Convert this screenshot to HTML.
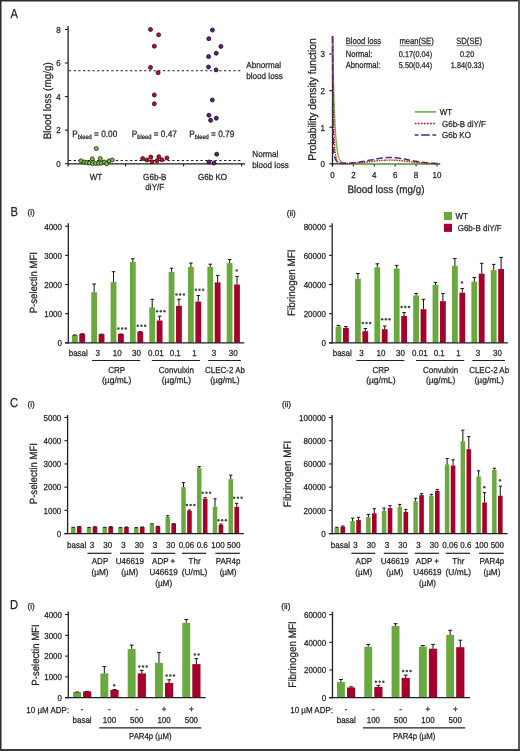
<!DOCTYPE html>
<html><head><meta charset="utf-8"><title>Figure</title>
<style>
html,body{margin:0;padding:0;background:#fff;}
body{width:520px;height:751px;overflow:hidden;position:relative;}
svg{display:block;position:absolute;left:0;top:0;will-change:transform;}
text{font-family:"Liberation Sans",sans-serif;text-rendering:geometricPrecision;stroke:#231f20;stroke-width:0.25px;}
</style></head><body>
<svg width="520" height="751" viewBox="0 0 520 751">
<rect x="0" y="0" width="520" height="751" fill="#fff"/>
<text transform="translate(10.5 17.6) scale(0.86 1)" font-size="13.02" fill="#231f20">A</text>
<line x1="68.1" y1="26" x2="68.1" y2="166.5" stroke="#231f20" stroke-width="1.3"/>
<line x1="64.9" y1="163.7" x2="68.1" y2="163.7" stroke="#231f20" stroke-width="1.1"/>
<text transform="translate(60.8 167) scale(0.92 1)" font-size="8.7" text-anchor="end" fill="#231f20">0</text>
<line x1="64.9" y1="130.14" x2="68.1" y2="130.14" stroke="#231f20" stroke-width="1.1"/>
<text transform="translate(60.8 133.44) scale(0.92 1)" font-size="8.7" text-anchor="end" fill="#231f20">2</text>
<line x1="64.9" y1="96.58" x2="68.1" y2="96.58" stroke="#231f20" stroke-width="1.1"/>
<text transform="translate(60.8 99.88) scale(0.92 1)" font-size="8.7" text-anchor="end" fill="#231f20">4</text>
<line x1="64.9" y1="63.02" x2="68.1" y2="63.02" stroke="#231f20" stroke-width="1.1"/>
<text transform="translate(60.8 66.32) scale(0.92 1)" font-size="8.7" text-anchor="end" fill="#231f20">6</text>
<line x1="64.9" y1="29.46" x2="68.1" y2="29.46" stroke="#231f20" stroke-width="1.1"/>
<text transform="translate(60.8 32.76) scale(0.92 1)" font-size="8.7" text-anchor="end" fill="#231f20">8</text>
<line x1="68.1" y1="163.8" x2="245" y2="163.8" stroke="#231f20" stroke-width="1.3"/>
<line x1="125.6" y1="163.8" x2="125.6" y2="166.6" stroke="#231f20" stroke-width="1.1"/>
<line x1="183.6" y1="163.8" x2="183.6" y2="166.6" stroke="#231f20" stroke-width="1.1"/>
<line x1="241.6" y1="163.8" x2="241.6" y2="166.6" stroke="#231f20" stroke-width="1.1"/>
<line x1="68.9" y1="70.8" x2="241" y2="70.8" stroke="#231f20" stroke-width="1.05" stroke-dasharray="2.3 2.4"/>
<line x1="68.9" y1="160.4" x2="241" y2="160.4" stroke="#231f20" stroke-width="1.05" stroke-dasharray="2.3 2.4"/>
<text transform="translate(50.9 100.8) rotate(-90) scale(0.92 1)" text-anchor="middle" font-size="10.76" fill="#231f20">Blood loss (mg/g)</text>
<text transform="translate(246.3 68.2) scale(0.92 1)" font-size="8.8" fill="#231f20">Abnormal</text>
<text transform="translate(246.3 78.6) scale(0.92 1)" font-size="8.8" fill="#231f20">blood loss</text>
<text transform="translate(252.3 157.4) scale(0.92 1)" font-size="8.8" fill="#231f20">Normal</text>
<text transform="translate(252.3 167.8) scale(0.92 1)" font-size="8.8" fill="#231f20">blood loss</text>
<text transform="translate(72.2 136.6) scale(0.9 1)" font-size="9.2" fill="#231f20">P<tspan font-size="6.4" dy="2">bleed</tspan><tspan dy="-2"> = 0.00</tspan></text>
<text transform="translate(131.8 136.6) scale(0.9 1)" font-size="9.2" fill="#231f20">P<tspan font-size="6.4" dy="2">bleed</tspan><tspan dy="-2"> = 0.47</tspan></text>
<text transform="translate(189.2 136.6) scale(0.9 1)" font-size="9.2" fill="#231f20">P<tspan font-size="6.4" dy="2">bleed</tspan><tspan dy="-2"> = 0.79</tspan></text>
<text transform="translate(96 179.6) scale(0.92 1)" font-size="8.8" text-anchor="middle" fill="#231f20">WT</text>
<text transform="translate(154.8 179.9) scale(0.92 1)" font-size="8.8" text-anchor="middle" fill="#231f20">G6b-B</text>
<text transform="translate(154.8 189.6) scale(0.92 1)" font-size="8.8" text-anchor="middle" fill="#231f20">diY/F</text>
<text transform="translate(212.5 179.9) scale(0.92 1)" font-size="8.8" text-anchor="middle" fill="#231f20">G6b KO</text>
<circle cx="96.3" cy="148.5" r="2" fill="#7cc043" stroke="#1f2a12" stroke-width="0.8"/>
<circle cx="80.8" cy="160.8" r="2" fill="#7cc043" stroke="#1f2a12" stroke-width="0.8"/>
<circle cx="84.2" cy="162" r="2" fill="#7cc043" stroke="#1f2a12" stroke-width="0.8"/>
<circle cx="86.9" cy="162.6" r="2" fill="#7cc043" stroke="#1f2a12" stroke-width="0.8"/>
<circle cx="89.5" cy="163" r="2" fill="#7cc043" stroke="#1f2a12" stroke-width="0.8"/>
<circle cx="92.3" cy="158.8" r="2" fill="#7cc043" stroke="#1f2a12" stroke-width="0.8"/>
<circle cx="92.6" cy="163.5" r="2" fill="#7cc043" stroke="#1f2a12" stroke-width="0.8"/>
<circle cx="95.7" cy="163.4" r="2" fill="#7cc043" stroke="#1f2a12" stroke-width="0.8"/>
<circle cx="98.5" cy="163.4" r="2" fill="#7cc043" stroke="#1f2a12" stroke-width="0.8"/>
<circle cx="100.3" cy="158.5" r="2" fill="#7cc043" stroke="#1f2a12" stroke-width="0.8"/>
<circle cx="101.2" cy="163.2" r="2" fill="#7cc043" stroke="#1f2a12" stroke-width="0.8"/>
<circle cx="104.2" cy="162" r="2" fill="#7cc043" stroke="#1f2a12" stroke-width="0.8"/>
<circle cx="106.6" cy="163.8" r="2" fill="#7cc043" stroke="#1f2a12" stroke-width="0.8"/>
<circle cx="109.2" cy="160.8" r="2" fill="#7cc043" stroke="#1f2a12" stroke-width="0.8"/>
<circle cx="112.3" cy="160" r="2" fill="#7cc043" stroke="#1f2a12" stroke-width="0.8"/>
<circle cx="150.5" cy="29.5" r="2" fill="#c00b2c" stroke="#2a0a0e" stroke-width="0.8"/>
<circle cx="158.6" cy="34.8" r="2" fill="#c00b2c" stroke="#2a0a0e" stroke-width="0.8"/>
<circle cx="154.3" cy="46.2" r="2" fill="#c00b2c" stroke="#2a0a0e" stroke-width="0.8"/>
<circle cx="150.5" cy="67.4" r="2" fill="#c00b2c" stroke="#2a0a0e" stroke-width="0.8"/>
<circle cx="158.1" cy="72.7" r="2" fill="#c00b2c" stroke="#2a0a0e" stroke-width="0.8"/>
<circle cx="154.3" cy="94.9" r="2" fill="#c00b2c" stroke="#2a0a0e" stroke-width="0.8"/>
<circle cx="154.3" cy="103.8" r="2" fill="#c00b2c" stroke="#2a0a0e" stroke-width="0.8"/>
<circle cx="142.7" cy="158.6" r="2" fill="#c00b2c" stroke="#2a0a0e" stroke-width="0.8"/>
<circle cx="147.1" cy="160" r="2" fill="#c00b2c" stroke="#2a0a0e" stroke-width="0.8"/>
<circle cx="150.8" cy="157.1" r="2" fill="#c00b2c" stroke="#2a0a0e" stroke-width="0.8"/>
<circle cx="152" cy="161.8" r="2" fill="#c00b2c" stroke="#2a0a0e" stroke-width="0.8"/>
<circle cx="157" cy="160.8" r="2" fill="#c00b2c" stroke="#2a0a0e" stroke-width="0.8"/>
<circle cx="158.8" cy="156.7" r="2" fill="#c00b2c" stroke="#2a0a0e" stroke-width="0.8"/>
<circle cx="161.9" cy="159.8" r="2" fill="#c00b2c" stroke="#2a0a0e" stroke-width="0.8"/>
<circle cx="166.9" cy="157.9" r="2" fill="#c00b2c" stroke="#2a0a0e" stroke-width="0.8"/>
<circle cx="212.4" cy="30.1" r="2" fill="#5b2379" stroke="#1a0a1e" stroke-width="0.8"/>
<circle cx="208.8" cy="38.7" r="2" fill="#5b2379" stroke="#1a0a1e" stroke-width="0.8"/>
<circle cx="220.9" cy="46.4" r="2" fill="#5b2379" stroke="#1a0a1e" stroke-width="0.8"/>
<circle cx="216.2" cy="53.3" r="2" fill="#5b2379" stroke="#1a0a1e" stroke-width="0.8"/>
<circle cx="208.6" cy="56.6" r="2" fill="#5b2379" stroke="#1a0a1e" stroke-width="0.8"/>
<circle cx="208.5" cy="67" r="2" fill="#5b2379" stroke="#1a0a1e" stroke-width="0.8"/>
<circle cx="216.1" cy="69.9" r="2" fill="#5b2379" stroke="#1a0a1e" stroke-width="0.8"/>
<circle cx="212.3" cy="100" r="2" fill="#5b2379" stroke="#1a0a1e" stroke-width="0.8"/>
<circle cx="208.9" cy="115.2" r="2" fill="#5b2379" stroke="#1a0a1e" stroke-width="0.8"/>
<circle cx="210.6" cy="120.3" r="2" fill="#5b2379" stroke="#1a0a1e" stroke-width="0.8"/>
<circle cx="216.3" cy="118.2" r="2" fill="#5b2379" stroke="#1a0a1e" stroke-width="0.8"/>
<circle cx="216.7" cy="154.2" r="2" fill="#5b2379" stroke="#1a0a1e" stroke-width="0.8"/>
<circle cx="208.9" cy="162" r="2" fill="#5b2379" stroke="#1a0a1e" stroke-width="0.8"/>
<circle cx="214" cy="163" r="2" fill="#5b2379" stroke="#1a0a1e" stroke-width="0.8"/>
<line x1="329.3" y1="163.8" x2="332.5" y2="163.8" stroke="#231f20" stroke-width="1.1"/>
<text transform="translate(324.9 167.1) scale(0.92 1)" font-size="8.7" text-anchor="end" fill="#231f20">0</text>
<line x1="329.3" y1="127.2" x2="332.5" y2="127.2" stroke="#231f20" stroke-width="1.1"/>
<text transform="translate(324.9 130.5) scale(0.92 1)" font-size="8.7" text-anchor="end" fill="#231f20">1</text>
<line x1="329.3" y1="90.6" x2="332.5" y2="90.6" stroke="#231f20" stroke-width="1.1"/>
<text transform="translate(324.9 93.9) scale(0.92 1)" font-size="8.7" text-anchor="end" fill="#231f20">2</text>
<line x1="329.3" y1="54" x2="332.5" y2="54" stroke="#231f20" stroke-width="1.1"/>
<text transform="translate(324.9 57.3) scale(0.92 1)" font-size="8.7" text-anchor="end" fill="#231f20">3</text>
<line x1="332.5" y1="163.8" x2="332.5" y2="166.6" stroke="#231f20" stroke-width="1.1"/>
<text transform="translate(332.5 177.6) scale(0.92 1)" font-size="8.7" text-anchor="middle" fill="#231f20">0</text>
<line x1="353.4" y1="163.8" x2="353.4" y2="166.6" stroke="#231f20" stroke-width="1.1"/>
<text transform="translate(353.4 177.6) scale(0.92 1)" font-size="8.7" text-anchor="middle" fill="#231f20">2</text>
<line x1="374.3" y1="163.8" x2="374.3" y2="166.6" stroke="#231f20" stroke-width="1.1"/>
<text transform="translate(374.3 177.6) scale(0.92 1)" font-size="8.7" text-anchor="middle" fill="#231f20">4</text>
<line x1="395.2" y1="163.8" x2="395.2" y2="166.6" stroke="#231f20" stroke-width="1.1"/>
<text transform="translate(395.2 177.6) scale(0.92 1)" font-size="8.7" text-anchor="middle" fill="#231f20">6</text>
<line x1="416.1" y1="163.8" x2="416.1" y2="166.6" stroke="#231f20" stroke-width="1.1"/>
<text transform="translate(416.1 177.6) scale(0.92 1)" font-size="8.7" text-anchor="middle" fill="#231f20">8</text>
<line x1="437" y1="163.8" x2="437" y2="166.6" stroke="#231f20" stroke-width="1.1"/>
<text transform="translate(437 177.6) scale(0.92 1)" font-size="8.7" text-anchor="middle" fill="#231f20">10</text>
<text transform="translate(316.2 99.5) rotate(-90) scale(0.92 1)" text-anchor="middle" font-size="11.2" fill="#231f20">Probability density function</text>
<text transform="translate(386 192.6) scale(0.92 1)" font-size="10.76" text-anchor="middle" fill="#231f20">Blood loss (mg/g)</text>
<line x1="332.5" y1="163.8" x2="440" y2="163.8" stroke="#231f20" stroke-width="1.3"/>
<line x1="332.5" y1="36" x2="332.5" y2="166.4" stroke="#231f20" stroke-width="1.3"/>
<polyline points="332.5,36.8 332.6,38.47 332.71,44.58 332.81,50.39 332.92,55.92 333.02,61.19 333.13,66.19 333.23,70.95 333.34,75.48 333.44,79.79 333.55,83.88 333.65,87.78 333.75,91.49 333.86,95.02 333.96,98.37 334.07,101.56 334.17,104.6 334.28,107.48 334.38,110.23 334.49,112.84 334.59,115.33 334.69,117.69 334.8,119.94 334.9,122.08 335.01,124.11 335.11,126.05 335.22,127.89 335.32,129.64 335.43,131.31 335.53,132.89 335.63,134.4 335.74,135.83 335.84,137.2 335.95,138.5 336.05,139.73 336.16,140.9 336.26,142.02 336.37,143.08 336.47,144.09 336.58,145.05 336.68,145.97 336.78,146.84 336.89,147.67 336.99,148.45 337.1,149.2 337.2,149.91 337.31,150.59 337.41,151.23 337.52,151.85 337.62,152.43 337.73,152.98 337.83,153.51 337.93,154.01 338.04,154.49 338.14,154.95 338.25,155.38 338.35,155.79 338.46,156.18 338.56,156.55 338.67,156.9 338.77,157.24 338.87,157.56 338.98,157.86 339.08,158.15 339.19,158.43 339.29,158.69 339.4,158.94 339.5,159.18 339.61,159.4 339.71,159.62 339.81,159.82 339.92,160.02 340.02,160.2 340.13,160.38 340.23,160.54 340.34,160.7 340.44,160.85 340.55,161 340.65,161.13 340.76,161.26 340.86,161.39 340.96,161.5 341.07,161.62 341.17,161.72 341.28,161.82 341.38,161.92 341.49,162.01 341.59,162.1 341.7,162.18 341.8,162.26 341.91,162.34 342.01,162.41 342.11,162.48 342.22,162.54 342.32,162.6 342.43,162.66 342.53,162.72 342.64,162.77 342.74,162.82 342.85,162.87 342.95,162.91 343.05,162.96 343.16,163 343.26,163.04 343.37,163.07 343.47,163.11 343.58,163.14 343.68,163.17 343.79,163.2 343.89,163.23 344,163.26 344.1,163.29 344.2,163.31 344.31,163.34 344.41,163.36 344.52,163.38 344.62,163.4 344.73,163.42 344.83,163.44 344.94,163.46 345.04,163.47 345.14,163.49 345.25,163.5 345.35,163.52 345.46,163.53 345.56,163.55 345.67,163.56 345.77,163.57 345.88,163.58 345.98,163.59 346.09,163.6 346.19,163.61 346.29,163.62 346.4,163.63 346.5,163.64 346.61,163.65 346.71,163.65 346.82,163.66 346.92,163.67 347.03,163.67 347.13,163.68 347.23,163.69 347.34,163.69 347.44,163.7 347.55,163.7 347.65,163.71 347.76,163.71 347.86,163.72 347.97,163.72 348.07,163.72 348.18,163.73 349.22,163.76 350.26,163.77 351.31,163.78 352.36,163.79 353.4,163.79 354.44,163.8 355.49,163.8 356.54,163.8 357.58,163.8 358.62,163.8 359.67,163.8 360.72,163.8 361.76,163.8 362.81,163.8 363.85,163.8 364.9,163.8 365.94,163.8 366.99,163.8 368.03,163.8 369.08,163.8 370.12,163.8 371.17,163.8 372.21,163.8 373.26,163.8 374.3,163.8 375.35,163.8 376.39,163.8 377.44,163.8 378.48,163.8 379.52,163.8 380.57,163.8 381.62,163.8 382.66,163.8 383.7,163.8 384.75,163.8 385.79,163.8 386.84,163.8 387.88,163.8 388.93,163.8 389.97,163.8 391.02,163.8 392.06,163.8 393.11,163.8 394.15,163.8 395.2,163.8 396.24,163.8 397.29,163.8 398.33,163.8 399.38,163.8 400.42,163.8 401.47,163.8 402.51,163.8 403.56,163.8 404.6,163.8 405.65,163.8 406.69,163.8 407.74,163.8 408.78,163.8 409.83,163.8 410.87,163.8 411.92,163.8 412.96,163.8 414.01,163.8 415.05,163.8 416.1,163.8 417.14,163.8 418.19,163.8 419.23,163.8 420.28,163.8 421.32,163.8 422.37,163.8 423.41,163.8 424.46,163.8 425.5,163.8 426.55,163.8 427.59,163.8 428.64,163.8 429.68,163.8 430.73,163.8 431.77,163.8 432.82,163.8 433.86,163.8 434.91,163.8 435.95,163.8 437,163.8 438.04,163.8 439.09,163.8 440.13,163.8" fill="none" stroke="#7ab648" stroke-width="1.4"/>
<polyline points="332.5,36.8 332.6,36.8 332.71,36.8 332.81,40.28 332.92,56.69 333.02,70.53 333.13,82.25 333.23,92.2 333.34,100.68 333.44,107.94 333.55,114.16 333.65,119.53 333.75,124.17 333.86,128.2 333.96,131.72 334.07,134.8 334.17,137.51 334.28,139.91 334.38,142.03 334.49,143.92 334.59,145.61 334.69,147.12 334.8,148.48 334.9,149.71 335.01,150.82 335.11,151.83 335.22,152.74 335.32,153.58 335.43,154.34 335.53,155.04 335.63,155.68 335.74,156.27 335.84,156.82 335.95,157.32 336.05,157.78 336.16,158.2 336.26,158.59 336.37,158.96 336.47,159.29 336.58,159.6 336.68,159.89 336.78,160.16 336.89,160.41 336.99,160.64 337.1,160.85 337.2,161.05 337.31,161.23 337.41,161.41 337.52,161.56 337.62,161.71 337.73,161.85 337.83,161.98 337.93,162.09 338.04,162.2 338.14,162.31 338.25,162.4 338.35,162.49 338.46,162.57 338.56,162.65 338.67,162.72 338.77,162.78 338.87,162.85 338.98,162.9 339.08,162.96 339.19,163 339.29,163.05 339.4,163.09 339.5,163.13 339.61,163.17 339.71,163.2 339.81,163.23 339.92,163.26 340.02,163.29 340.13,163.31 340.23,163.34 340.34,163.36 340.44,163.38 340.55,163.39 340.65,163.41 340.76,163.43 340.86,163.44 340.96,163.45 341.07,163.46 341.17,163.48 341.28,163.49 341.38,163.49 341.49,163.5 341.59,163.51 341.7,163.52 341.8,163.52 341.91,163.53 342.01,163.53 342.11,163.54 342.22,163.54 342.32,163.55 342.43,163.55 342.53,163.55 342.64,163.56 342.74,163.56 342.85,163.56 342.95,163.56 343.05,163.56 343.16,163.56 343.26,163.56 343.37,163.56 343.47,163.56 343.58,163.56 343.68,163.56 343.79,163.56 343.89,163.56 344,163.56 344.1,163.56 344.2,163.56 344.31,163.56 344.41,163.56 344.52,163.55 344.62,163.55 344.73,163.55 344.83,163.55 344.94,163.55 345.04,163.54 345.14,163.54 345.25,163.54 345.35,163.54 345.46,163.53 345.56,163.53 345.67,163.53 345.77,163.53 345.88,163.52 345.98,163.52 346.09,163.52 346.19,163.52 346.29,163.51 346.4,163.51 346.5,163.51 346.61,163.5 346.71,163.5 346.82,163.5 346.92,163.49 347.03,163.49 347.13,163.49 347.23,163.48 347.34,163.48 347.44,163.47 347.55,163.47 347.65,163.47 347.76,163.46 347.86,163.46 347.97,163.46 348.07,163.45 348.18,163.45 349.22,163.4 350.26,163.36 351.31,163.31 352.36,163.25 353.4,163.19 354.44,163.12 355.49,163.05 356.54,162.98 357.58,162.9 358.62,162.81 359.67,162.72 360.72,162.63 361.76,162.53 362.81,162.43 363.85,162.32 364.9,162.21 365.94,162.09 366.99,161.98 368.03,161.86 369.08,161.73 370.12,161.61 371.17,161.49 372.21,161.37 373.26,161.24 374.3,161.12 375.35,161.01 376.39,160.89 377.44,160.78 378.48,160.68 379.52,160.58 380.57,160.49 381.62,160.41 382.66,160.33 383.7,160.26 384.75,160.21 385.79,160.16 386.84,160.12 387.88,160.09 388.93,160.08 389.97,160.07 391.02,160.08 392.06,160.09 393.11,160.12 394.15,160.16 395.2,160.21 396.24,160.26 397.29,160.33 398.33,160.41 399.38,160.49 400.42,160.58 401.47,160.68 402.51,160.78 403.56,160.89 404.6,161.01 405.65,161.12 406.69,161.24 407.74,161.37 408.78,161.49 409.83,161.61 410.87,161.73 411.92,161.86 412.96,161.98 414.01,162.09 415.05,162.21 416.1,162.32 417.14,162.43 418.19,162.53 419.23,162.63 420.28,162.72 421.32,162.81 422.37,162.9 423.41,162.98 424.46,163.05 425.5,163.12 426.55,163.19 427.59,163.25 428.64,163.31 429.68,163.36 430.73,163.41 431.77,163.45 432.82,163.49 433.86,163.52 434.91,163.56 435.95,163.59 437,163.61 438.04,163.64 439.09,163.66 440.13,163.68" fill="none" stroke="#c8102e" stroke-width="1.4" stroke-dasharray="1.5 1.0"/>
<polyline points="332.5,36.8 332.6,54.53 332.71,81.4 332.81,100.85 332.92,114.97 333.02,125.27 333.13,132.83 333.23,138.4 333.34,142.55 333.44,145.67 333.55,148.05 333.65,149.88 333.75,151.32 333.86,152.48 333.96,153.42 334.07,154.2 334.17,154.87 334.28,155.44 334.38,155.95 334.49,156.4 334.59,156.81 334.69,157.18 334.8,157.52 334.9,157.84 335.01,158.14 335.11,158.42 335.22,158.68 335.32,158.93 335.43,159.16 335.53,159.39 335.63,159.6 335.74,159.79 335.84,159.98 335.95,160.16 336.05,160.33 336.16,160.49 336.26,160.65 336.37,160.79 336.47,160.93 336.58,161.06 336.68,161.19 336.78,161.31 336.89,161.42 336.99,161.53 337.1,161.63 337.2,161.73 337.31,161.82 337.41,161.91 337.52,161.99 337.62,162.07 337.73,162.14 337.83,162.21 337.93,162.28 338.04,162.34 338.14,162.4 338.25,162.46 338.35,162.52 338.46,162.57 338.56,162.62 338.67,162.66 338.77,162.71 338.87,162.75 338.98,162.79 339.08,162.83 339.19,162.86 339.29,162.9 339.4,162.93 339.5,162.96 339.61,162.99 339.71,163.01 339.81,163.04 339.92,163.06 340.02,163.09 340.13,163.11 340.23,163.13 340.34,163.15 340.44,163.16 340.55,163.18 340.65,163.2 340.76,163.21 340.86,163.22 340.96,163.24 341.07,163.25 341.17,163.26 341.28,163.27 341.38,163.28 341.49,163.29 341.59,163.3 341.7,163.31 341.8,163.31 341.91,163.32 342.01,163.33 342.11,163.33 342.22,163.34 342.32,163.34 342.43,163.35 342.53,163.35 342.64,163.35 342.74,163.36 342.85,163.36 342.95,163.36 343.05,163.36 343.16,163.36 343.26,163.37 343.37,163.37 343.47,163.37 343.58,163.37 343.68,163.37 343.79,163.37 343.89,163.37 344,163.37 344.1,163.36 344.2,163.36 344.31,163.36 344.41,163.36 344.52,163.36 344.62,163.36 344.73,163.35 344.83,163.35 344.94,163.35 345.04,163.35 345.14,163.34 345.25,163.34 345.35,163.34 345.46,163.33 345.56,163.33 345.67,163.33 345.77,163.32 345.88,163.32 345.98,163.31 346.09,163.31 346.19,163.3 346.29,163.3 346.4,163.3 346.5,163.29 346.61,163.29 346.71,163.28 346.82,163.28 346.92,163.27 347.03,163.27 347.13,163.26 347.23,163.25 347.34,163.25 347.44,163.24 347.55,163.24 347.65,163.23 347.76,163.22 347.86,163.22 347.97,163.21 348.07,163.21 348.18,163.2 349.22,163.13 350.26,163.05 351.31,162.97 352.36,162.87 353.4,162.77 354.44,162.66 355.49,162.54 356.54,162.42 357.58,162.28 358.62,162.14 359.67,161.99 360.72,161.83 361.76,161.66 362.81,161.49 363.85,161.31 364.9,161.12 365.94,160.93 366.99,160.73 368.03,160.53 369.08,160.33 370.12,160.12 371.17,159.91 372.21,159.71 373.26,159.5 374.3,159.3 375.35,159.11 376.39,158.92 377.44,158.73 378.48,158.56 379.52,158.39 380.57,158.24 381.62,158.1 382.66,157.97 383.7,157.86 384.75,157.76 385.79,157.68 386.84,157.61 387.88,157.57 388.93,157.54 389.97,157.53 391.02,157.54 392.06,157.57 393.11,157.61 394.15,157.68 395.2,157.76 396.24,157.86 397.29,157.97 398.33,158.1 399.38,158.24 400.42,158.39 401.47,158.56 402.51,158.73 403.56,158.92 404.6,159.11 405.65,159.3 406.69,159.5 407.74,159.71 408.78,159.91 409.83,160.12 410.87,160.33 411.92,160.53 412.96,160.73 414.01,160.93 415.05,161.12 416.1,161.31 417.14,161.49 418.19,161.66 419.23,161.83 420.28,161.99 421.32,162.14 422.37,162.28 423.41,162.42 424.46,162.54 425.5,162.66 426.55,162.77 427.59,162.88 428.64,162.97 429.68,163.06 430.73,163.14 431.77,163.21 432.82,163.28 433.86,163.34 434.91,163.39 435.95,163.44 437,163.48 438.04,163.52 439.09,163.56 440.13,163.59" fill="none" stroke="#52287a" stroke-width="1.5" stroke-dasharray="6.5 2.7"/>
<text transform="translate(345.7 44.4) scale(0.84 1)" font-size="9.17" fill="#231f20">Blood loss</text>
<line x1="345.7" y1="45.7" x2="380.3" y2="45.7" stroke="#555" stroke-width="0.7"/>
<text transform="translate(399.5 44.4) scale(0.84 1)" font-size="9.05" fill="#231f20">mean(SE)</text>
<line x1="399.5" y1="45.7" x2="431.5" y2="45.7" stroke="#555" stroke-width="0.7"/>
<text transform="translate(456.3 44.4) scale(0.84 1)" font-size="9.05" fill="#231f20">SD(SE)</text>
<line x1="456.3" y1="45.7" x2="478.1" y2="45.7" stroke="#555" stroke-width="0.7"/>
<text transform="translate(345.7 57.4) scale(0.84 1)" font-size="9.05" fill="#231f20">Normal:</text>
<text transform="translate(345.7 68.3) scale(0.84 1)" font-size="9.05" fill="#231f20">Abnormal:</text>
<text transform="translate(398.8 57.4) scale(0.88 1)" font-size="8.3" fill="#231f20">0.17(0.04)</text>
<text transform="translate(398.8 68.3) scale(0.88 1)" font-size="8.3" fill="#231f20">5.50(0.44)</text>
<text transform="translate(460 57.4) scale(0.88 1)" font-size="8.3" fill="#231f20">0.20</text>
<text transform="translate(450.8 68.3) scale(0.88 1)" font-size="8.3" fill="#231f20">1.84(0.33)</text>
<line x1="414.8" y1="111.9" x2="436.2" y2="111.9" stroke="#7ab648" stroke-width="1.7"/>
<line x1="414.8" y1="123.5" x2="436.2" y2="123.5" stroke="#c8102e" stroke-width="1.4" stroke-dasharray="1.7 1.35"/>
<line x1="414.8" y1="135" x2="436.2" y2="135" stroke="#52287a" stroke-width="1.5" stroke-dasharray="8.5 2.7" stroke-dashoffset="4.8"/>
<text transform="translate(439.8 115) scale(0.92 1)" font-size="8.7" fill="#231f20">WT</text>
<text transform="translate(442 126.9) scale(0.92 1)" font-size="8.7" fill="#231f20">G6b-B diY/F</text>
<text transform="translate(442 138.1) scale(0.92 1)" font-size="8.7" fill="#231f20">G6b KO</text>
<text transform="translate(10.5 215.8) scale(0.86 1)" font-size="13.02" fill="#231f20">B</text>
<text transform="translate(27.5 215.3) scale(1 1)" font-size="8.2" fill="#231f20">(i)</text>
<text transform="translate(286.7 215.5) scale(1 1)" font-size="8.2" fill="#231f20">(ii)</text>
<line x1="68.3" y1="223.3" x2="68.3" y2="343.4" stroke="#231f20" stroke-width="1.3"/>
<line x1="65.1" y1="342.8" x2="68.3" y2="342.8" stroke="#231f20" stroke-width="1.1"/>
<text transform="translate(62 346.1) scale(0.92 1)" font-size="8.7" text-anchor="end" fill="#231f20">0</text>
<line x1="65.1" y1="313.65" x2="68.3" y2="313.65" stroke="#231f20" stroke-width="1.1"/>
<text transform="translate(62 316.95) scale(0.92 1)" font-size="8.7" text-anchor="end" fill="#231f20">1000</text>
<line x1="65.1" y1="284.5" x2="68.3" y2="284.5" stroke="#231f20" stroke-width="1.1"/>
<text transform="translate(62 287.8) scale(0.92 1)" font-size="8.7" text-anchor="end" fill="#231f20">2000</text>
<line x1="65.1" y1="255.35" x2="68.3" y2="255.35" stroke="#231f20" stroke-width="1.1"/>
<text transform="translate(62 258.65) scale(0.92 1)" font-size="8.7" text-anchor="end" fill="#231f20">3000</text>
<line x1="65.1" y1="226.2" x2="68.3" y2="226.2" stroke="#231f20" stroke-width="1.1"/>
<text transform="translate(62 229.5) scale(0.92 1)" font-size="8.7" text-anchor="end" fill="#231f20">4000</text>
<rect x="71.9" y="335" width="5.8" height="7.8" fill="#6aa93f"/>
<rect x="79.3" y="333.8" width="5.8" height="9" fill="#a6002d"/>
<line x1="73" y1="335" x2="76.6" y2="335" stroke="#1e1a1b" stroke-width="1.05"/>
<line x1="80.4" y1="333.8" x2="84" y2="333.8" stroke="#1e1a1b" stroke-width="1.05"/>
<rect x="91.25" y="292.3" width="5.8" height="50.5" fill="#6aa93f"/>
<rect x="98.65" y="334.2" width="5.8" height="8.6" fill="#a6002d"/>
<line x1="94.15" y1="284" x2="94.15" y2="292.3" stroke="#1e1a1b" stroke-width="1.05"/>
<line x1="92.35" y1="284" x2="95.95" y2="284" stroke="#1e1a1b" stroke-width="1.05"/>
<line x1="99.75" y1="334.2" x2="103.35" y2="334.2" stroke="#1e1a1b" stroke-width="1.05"/>
<rect x="110.6" y="282.1" width="5.8" height="60.7" fill="#6aa93f"/>
<rect x="118" y="334" width="5.8" height="8.8" fill="#a6002d"/>
<line x1="113.5" y1="271.7" x2="113.5" y2="282.1" stroke="#1e1a1b" stroke-width="1.05"/>
<line x1="111.7" y1="271.7" x2="115.3" y2="271.7" stroke="#1e1a1b" stroke-width="1.05"/>
<line x1="119.1" y1="334" x2="122.7" y2="334" stroke="#1e1a1b" stroke-width="1.05"/>
<circle cx="118.4" cy="328.6" r="1.25" fill="#4a4a4a"/>
<circle cx="122.1" cy="328.6" r="1.25" fill="#4a4a4a"/>
<circle cx="125.8" cy="328.6" r="1.25" fill="#4a4a4a"/>
<rect x="129.95" y="262" width="5.8" height="80.8" fill="#6aa93f"/>
<rect x="137.35" y="331.7" width="5.8" height="11.1" fill="#a6002d"/>
<line x1="132.85" y1="258.7" x2="132.85" y2="262" stroke="#1e1a1b" stroke-width="1.05"/>
<line x1="131.05" y1="258.7" x2="134.65" y2="258.7" stroke="#1e1a1b" stroke-width="1.05"/>
<line x1="138.45" y1="331.7" x2="142.05" y2="331.7" stroke="#1e1a1b" stroke-width="1.05"/>
<circle cx="137.75" cy="325.8" r="1.25" fill="#4a4a4a"/>
<circle cx="141.45" cy="325.8" r="1.25" fill="#4a4a4a"/>
<circle cx="145.15" cy="325.8" r="1.25" fill="#4a4a4a"/>
<rect x="149.3" y="307.4" width="5.8" height="35.4" fill="#6aa93f"/>
<rect x="156.7" y="320.5" width="5.8" height="22.3" fill="#a6002d"/>
<line x1="152.2" y1="299.3" x2="152.2" y2="307.4" stroke="#1e1a1b" stroke-width="1.05"/>
<line x1="150.4" y1="299.3" x2="154" y2="299.3" stroke="#1e1a1b" stroke-width="1.05"/>
<line x1="159.6" y1="316.2" x2="159.6" y2="320.5" stroke="#1e1a1b" stroke-width="1.05"/>
<line x1="157.8" y1="316.2" x2="161.4" y2="316.2" stroke="#1e1a1b" stroke-width="1.05"/>
<circle cx="157.1" cy="311.3" r="1.25" fill="#4a4a4a"/>
<circle cx="160.8" cy="311.3" r="1.25" fill="#4a4a4a"/>
<circle cx="164.5" cy="311.3" r="1.25" fill="#4a4a4a"/>
<rect x="168.65" y="271.8" width="5.8" height="71" fill="#6aa93f"/>
<rect x="176.05" y="305.8" width="5.8" height="37" fill="#a6002d"/>
<line x1="171.55" y1="268.2" x2="171.55" y2="271.8" stroke="#1e1a1b" stroke-width="1.05"/>
<line x1="169.75" y1="268.2" x2="173.35" y2="268.2" stroke="#1e1a1b" stroke-width="1.05"/>
<line x1="178.95" y1="299.3" x2="178.95" y2="305.8" stroke="#1e1a1b" stroke-width="1.05"/>
<line x1="177.15" y1="299.3" x2="180.75" y2="299.3" stroke="#1e1a1b" stroke-width="1.05"/>
<circle cx="176.45" cy="294.4" r="1.25" fill="#4a4a4a"/>
<circle cx="180.15" cy="294.4" r="1.25" fill="#4a4a4a"/>
<circle cx="183.85" cy="294.4" r="1.25" fill="#4a4a4a"/>
<rect x="188" y="266.9" width="5.8" height="75.9" fill="#6aa93f"/>
<rect x="195.4" y="301.6" width="5.8" height="41.2" fill="#a6002d"/>
<line x1="190.9" y1="263.1" x2="190.9" y2="266.9" stroke="#1e1a1b" stroke-width="1.05"/>
<line x1="189.1" y1="263.1" x2="192.7" y2="263.1" stroke="#1e1a1b" stroke-width="1.05"/>
<line x1="198.3" y1="295.5" x2="198.3" y2="301.6" stroke="#1e1a1b" stroke-width="1.05"/>
<line x1="196.5" y1="295.5" x2="200.1" y2="295.5" stroke="#1e1a1b" stroke-width="1.05"/>
<circle cx="195.8" cy="289.8" r="1.25" fill="#4a4a4a"/>
<circle cx="199.5" cy="289.8" r="1.25" fill="#4a4a4a"/>
<circle cx="203.2" cy="289.8" r="1.25" fill="#4a4a4a"/>
<rect x="207.35" y="266.9" width="5.8" height="75.9" fill="#6aa93f"/>
<rect x="214.75" y="282.4" width="5.8" height="60.4" fill="#a6002d"/>
<line x1="210.25" y1="264.2" x2="210.25" y2="266.9" stroke="#1e1a1b" stroke-width="1.05"/>
<line x1="208.45" y1="264.2" x2="212.05" y2="264.2" stroke="#1e1a1b" stroke-width="1.05"/>
<line x1="217.65" y1="275.4" x2="217.65" y2="282.4" stroke="#1e1a1b" stroke-width="1.05"/>
<line x1="215.85" y1="275.4" x2="219.45" y2="275.4" stroke="#1e1a1b" stroke-width="1.05"/>
<rect x="226.7" y="263.1" width="5.8" height="79.7" fill="#6aa93f"/>
<rect x="234.1" y="284.5" width="5.8" height="58.3" fill="#a6002d"/>
<line x1="229.6" y1="259.5" x2="229.6" y2="263.1" stroke="#1e1a1b" stroke-width="1.05"/>
<line x1="227.8" y1="259.5" x2="231.4" y2="259.5" stroke="#1e1a1b" stroke-width="1.05"/>
<line x1="237" y1="276.4" x2="237" y2="284.5" stroke="#1e1a1b" stroke-width="1.05"/>
<line x1="235.2" y1="276.4" x2="238.8" y2="276.4" stroke="#1e1a1b" stroke-width="1.05"/>
<circle cx="236.7" cy="270.5" r="1.25" fill="#4a4a4a"/>
<line x1="65.1" y1="342.8" x2="244.2" y2="342.8" stroke="#231f20" stroke-width="1.3"/>
<text transform="translate(37 282.7) rotate(-90) scale(0.92 1)" text-anchor="middle" font-size="10.43" fill="#231f20">P-selectin MFI</text>
<line x1="332.2" y1="223.3" x2="332.2" y2="343.4" stroke="#231f20" stroke-width="1.3"/>
<line x1="329" y1="342.8" x2="332.2" y2="342.8" stroke="#231f20" stroke-width="1.1"/>
<text transform="translate(325.9 346.1) scale(0.92 1)" font-size="8.7" text-anchor="end" fill="#231f20">0</text>
<line x1="329" y1="313.65" x2="332.2" y2="313.65" stroke="#231f20" stroke-width="1.1"/>
<text transform="translate(325.9 316.95) scale(0.92 1)" font-size="8.7" text-anchor="end" fill="#231f20">20000</text>
<line x1="329" y1="284.5" x2="332.2" y2="284.5" stroke="#231f20" stroke-width="1.1"/>
<text transform="translate(325.9 287.8) scale(0.92 1)" font-size="8.7" text-anchor="end" fill="#231f20">40000</text>
<line x1="329" y1="255.35" x2="332.2" y2="255.35" stroke="#231f20" stroke-width="1.1"/>
<text transform="translate(325.9 258.65) scale(0.92 1)" font-size="8.7" text-anchor="end" fill="#231f20">60000</text>
<line x1="329" y1="226.2" x2="332.2" y2="226.2" stroke="#231f20" stroke-width="1.1"/>
<text transform="translate(325.9 229.5) scale(0.92 1)" font-size="8.7" text-anchor="end" fill="#231f20">80000</text>
<rect x="335.6" y="326.5" width="5.8" height="16.3" fill="#6aa93f"/>
<rect x="343" y="327.9" width="5.8" height="14.9" fill="#a6002d"/>
<line x1="338.5" y1="325.4" x2="338.5" y2="326.5" stroke="#1e1a1b" stroke-width="1.05"/>
<line x1="336.7" y1="325.4" x2="340.3" y2="325.4" stroke="#1e1a1b" stroke-width="1.05"/>
<line x1="345.9" y1="326.5" x2="345.9" y2="327.9" stroke="#1e1a1b" stroke-width="1.05"/>
<line x1="344.1" y1="326.5" x2="347.7" y2="326.5" stroke="#1e1a1b" stroke-width="1.05"/>
<rect x="355" y="278.8" width="5.8" height="64" fill="#6aa93f"/>
<rect x="362.4" y="331.2" width="5.8" height="11.6" fill="#a6002d"/>
<line x1="357.9" y1="273.5" x2="357.9" y2="278.8" stroke="#1e1a1b" stroke-width="1.05"/>
<line x1="356.1" y1="273.5" x2="359.7" y2="273.5" stroke="#1e1a1b" stroke-width="1.05"/>
<line x1="365.3" y1="328.5" x2="365.3" y2="331.2" stroke="#1e1a1b" stroke-width="1.05"/>
<line x1="363.5" y1="328.5" x2="367.1" y2="328.5" stroke="#1e1a1b" stroke-width="1.05"/>
<circle cx="362.8" cy="323" r="1.25" fill="#4a4a4a"/>
<circle cx="366.5" cy="323" r="1.25" fill="#4a4a4a"/>
<circle cx="370.2" cy="323" r="1.25" fill="#4a4a4a"/>
<rect x="374.4" y="267.3" width="5.8" height="75.5" fill="#6aa93f"/>
<rect x="381.8" y="329.2" width="5.8" height="13.6" fill="#a6002d"/>
<line x1="377.3" y1="263.8" x2="377.3" y2="267.3" stroke="#1e1a1b" stroke-width="1.05"/>
<line x1="375.5" y1="263.8" x2="379.1" y2="263.8" stroke="#1e1a1b" stroke-width="1.05"/>
<line x1="384.7" y1="326" x2="384.7" y2="329.2" stroke="#1e1a1b" stroke-width="1.05"/>
<line x1="382.9" y1="326" x2="386.5" y2="326" stroke="#1e1a1b" stroke-width="1.05"/>
<circle cx="382.2" cy="319.2" r="1.25" fill="#4a4a4a"/>
<circle cx="385.9" cy="319.2" r="1.25" fill="#4a4a4a"/>
<circle cx="389.6" cy="319.2" r="1.25" fill="#4a4a4a"/>
<rect x="393.8" y="268.7" width="5.8" height="74.1" fill="#6aa93f"/>
<rect x="401.2" y="316" width="5.8" height="26.8" fill="#a6002d"/>
<line x1="396.7" y1="265.4" x2="396.7" y2="268.7" stroke="#1e1a1b" stroke-width="1.05"/>
<line x1="394.9" y1="265.4" x2="398.5" y2="265.4" stroke="#1e1a1b" stroke-width="1.05"/>
<line x1="404.1" y1="312.5" x2="404.1" y2="316" stroke="#1e1a1b" stroke-width="1.05"/>
<line x1="402.3" y1="312.5" x2="405.9" y2="312.5" stroke="#1e1a1b" stroke-width="1.05"/>
<circle cx="401.6" cy="307.1" r="1.25" fill="#4a4a4a"/>
<circle cx="405.3" cy="307.1" r="1.25" fill="#4a4a4a"/>
<circle cx="409" cy="307.1" r="1.25" fill="#4a4a4a"/>
<rect x="413.2" y="295.5" width="5.8" height="47.3" fill="#6aa93f"/>
<rect x="420.6" y="309.2" width="5.8" height="33.6" fill="#a6002d"/>
<line x1="416.1" y1="293.4" x2="416.1" y2="295.5" stroke="#1e1a1b" stroke-width="1.05"/>
<line x1="414.3" y1="293.4" x2="417.9" y2="293.4" stroke="#1e1a1b" stroke-width="1.05"/>
<line x1="423.5" y1="299.3" x2="423.5" y2="309.2" stroke="#1e1a1b" stroke-width="1.05"/>
<line x1="421.7" y1="299.3" x2="425.3" y2="299.3" stroke="#1e1a1b" stroke-width="1.05"/>
<rect x="432.6" y="284.9" width="5.8" height="57.9" fill="#6aa93f"/>
<rect x="440" y="301.2" width="5.8" height="41.6" fill="#a6002d"/>
<line x1="435.5" y1="282.4" x2="435.5" y2="284.9" stroke="#1e1a1b" stroke-width="1.05"/>
<line x1="433.7" y1="282.4" x2="437.3" y2="282.4" stroke="#1e1a1b" stroke-width="1.05"/>
<line x1="442.9" y1="293.6" x2="442.9" y2="301.2" stroke="#1e1a1b" stroke-width="1.05"/>
<line x1="441.1" y1="293.6" x2="444.7" y2="293.6" stroke="#1e1a1b" stroke-width="1.05"/>
<rect x="452" y="265.9" width="5.8" height="76.9" fill="#6aa93f"/>
<rect x="459.4" y="292.7" width="5.8" height="50.1" fill="#a6002d"/>
<line x1="454.9" y1="258.5" x2="454.9" y2="265.9" stroke="#1e1a1b" stroke-width="1.05"/>
<line x1="453.1" y1="258.5" x2="456.7" y2="258.5" stroke="#1e1a1b" stroke-width="1.05"/>
<line x1="462.3" y1="288.5" x2="462.3" y2="292.7" stroke="#1e1a1b" stroke-width="1.05"/>
<line x1="460.5" y1="288.5" x2="464.1" y2="288.5" stroke="#1e1a1b" stroke-width="1.05"/>
<circle cx="462" cy="282.4" r="1.25" fill="#4a4a4a"/>
<rect x="471.4" y="281.7" width="5.8" height="61.1" fill="#6aa93f"/>
<rect x="478.8" y="273.7" width="5.8" height="69.1" fill="#a6002d"/>
<line x1="474.3" y1="277.5" x2="474.3" y2="281.7" stroke="#1e1a1b" stroke-width="1.05"/>
<line x1="472.5" y1="277.5" x2="476.1" y2="277.5" stroke="#1e1a1b" stroke-width="1.05"/>
<line x1="481.7" y1="263.3" x2="481.7" y2="273.7" stroke="#1e1a1b" stroke-width="1.05"/>
<line x1="479.9" y1="263.3" x2="483.5" y2="263.3" stroke="#1e1a1b" stroke-width="1.05"/>
<rect x="490.8" y="270.1" width="5.8" height="72.7" fill="#6aa93f"/>
<rect x="498.2" y="269" width="5.8" height="73.8" fill="#a6002d"/>
<line x1="493.7" y1="264.4" x2="493.7" y2="270.1" stroke="#1e1a1b" stroke-width="1.05"/>
<line x1="491.9" y1="264.4" x2="495.5" y2="264.4" stroke="#1e1a1b" stroke-width="1.05"/>
<line x1="501.1" y1="257.4" x2="501.1" y2="269" stroke="#1e1a1b" stroke-width="1.05"/>
<line x1="499.3" y1="257.4" x2="502.9" y2="257.4" stroke="#1e1a1b" stroke-width="1.05"/>
<line x1="329" y1="342.8" x2="508" y2="342.8" stroke="#231f20" stroke-width="1.3"/>
<text transform="translate(295.3 282.7) rotate(-90) scale(0.92 1)" text-anchor="middle" font-size="10.76" fill="#231f20">Fibrinogen MFI</text>
<rect x="443.9" y="211.9" width="8.1" height="8.1" fill="#6aa93f"/>
<rect x="443.9" y="223.8" width="8.1" height="8.1" fill="#a6002d"/>
<text transform="translate(455.5 219.1) scale(0.92 1)" font-size="8.7" fill="#231f20">WT</text>
<text transform="translate(457.7 231) scale(0.92 1)" font-size="8.7" fill="#231f20">G6b-B diY/F</text>
<text transform="translate(97.85 355.8) scale(0.92 1)" font-size="8.7" text-anchor="middle" fill="#231f20">3</text>
<text transform="translate(117.2 355.8) scale(0.92 1)" font-size="8.7" text-anchor="middle" fill="#231f20">10</text>
<text transform="translate(136.55 355.8) scale(0.92 1)" font-size="8.7" text-anchor="middle" fill="#231f20">30</text>
<text transform="translate(155.9 355.8) scale(0.92 1)" font-size="8.7" text-anchor="middle" fill="#231f20">0.01</text>
<text transform="translate(175.25 355.8) scale(0.92 1)" font-size="8.7" text-anchor="middle" fill="#231f20">0.1</text>
<text transform="translate(194.6 355.8) scale(0.92 1)" font-size="8.7" text-anchor="middle" fill="#231f20">1</text>
<text transform="translate(213.95 355.8) scale(0.92 1)" font-size="8.7" text-anchor="middle" fill="#231f20">3</text>
<text transform="translate(233.3 355.8) scale(0.92 1)" font-size="8.7" text-anchor="middle" fill="#231f20">30</text>
<text transform="translate(68.7 355.8) scale(0.92 1)" font-size="8.7" fill="#231f20">basal</text>
<text transform="translate(361.6 355.8) scale(0.92 1)" font-size="8.7" text-anchor="middle" fill="#231f20">3</text>
<text transform="translate(381 355.8) scale(0.92 1)" font-size="8.7" text-anchor="middle" fill="#231f20">10</text>
<text transform="translate(400.4 355.8) scale(0.92 1)" font-size="8.7" text-anchor="middle" fill="#231f20">30</text>
<text transform="translate(419.8 355.8) scale(0.92 1)" font-size="8.7" text-anchor="middle" fill="#231f20">0.01</text>
<text transform="translate(439.2 355.8) scale(0.92 1)" font-size="8.7" text-anchor="middle" fill="#231f20">0.1</text>
<text transform="translate(458.6 355.8) scale(0.92 1)" font-size="8.7" text-anchor="middle" fill="#231f20">1</text>
<text transform="translate(478 355.8) scale(0.92 1)" font-size="8.7" text-anchor="middle" fill="#231f20">3</text>
<text transform="translate(497.4 355.8) scale(0.92 1)" font-size="8.7" text-anchor="middle" fill="#231f20">30</text>
<text transform="translate(332.7 355.8) scale(0.92 1)" font-size="8.7" fill="#231f20">basal</text>
<line x1="92.1" y1="360.5" x2="140.2" y2="360.5" stroke="#231f20" stroke-width="1.2"/>
<text transform="translate(116.65 373.1) scale(0.92 1)" font-size="8.7" text-anchor="middle" fill="#231f20">CRP</text>
<text transform="translate(116.65 383.3) scale(0.92 1)" font-size="8.7" text-anchor="middle" textLength="31.96" lengthAdjust="spacingAndGlyphs" fill="#231f20">(µg/mL)</text>
<line x1="151.8" y1="360.5" x2="200" y2="360.5" stroke="#231f20" stroke-width="1.2"/>
<text transform="translate(176.4 373.1) scale(0.92 1)" font-size="8.7" text-anchor="middle" fill="#231f20">Convulxin</text>
<text transform="translate(176.4 383.3) scale(0.92 1)" font-size="8.7" text-anchor="middle" textLength="31.96" lengthAdjust="spacingAndGlyphs" fill="#231f20">(µg/mL)</text>
<line x1="208.1" y1="360.5" x2="240.8" y2="360.5" stroke="#231f20" stroke-width="1.2"/>
<text transform="translate(224.95 373.1) scale(0.92 1)" font-size="8.7" text-anchor="middle" fill="#231f20">CLEC-2 Ab</text>
<text transform="translate(224.95 383.3) scale(0.92 1)" font-size="8.7" text-anchor="middle" textLength="31.96" lengthAdjust="spacingAndGlyphs" fill="#231f20">(µg/mL)</text>
<line x1="356.3" y1="360.5" x2="404.4" y2="360.5" stroke="#231f20" stroke-width="1.2"/>
<text transform="translate(380.85 373.1) scale(0.92 1)" font-size="8.7" text-anchor="middle" fill="#231f20">CRP</text>
<text transform="translate(380.85 383.3) scale(0.92 1)" font-size="8.7" text-anchor="middle" textLength="31.96" lengthAdjust="spacingAndGlyphs" fill="#231f20">(µg/mL)</text>
<line x1="416" y1="360.5" x2="464.2" y2="360.5" stroke="#231f20" stroke-width="1.2"/>
<text transform="translate(440.6 373.1) scale(0.92 1)" font-size="8.7" text-anchor="middle" fill="#231f20">Convulxin</text>
<text transform="translate(440.6 383.3) scale(0.92 1)" font-size="8.7" text-anchor="middle" textLength="31.96" lengthAdjust="spacingAndGlyphs" fill="#231f20">(µg/mL)</text>
<line x1="472.3" y1="360.5" x2="505" y2="360.5" stroke="#231f20" stroke-width="1.2"/>
<text transform="translate(489.15 373.1) scale(0.92 1)" font-size="8.7" text-anchor="middle" fill="#231f20">CLEC-2 Ab</text>
<text transform="translate(489.15 383.3) scale(0.92 1)" font-size="8.7" text-anchor="middle" textLength="31.96" lengthAdjust="spacingAndGlyphs" fill="#231f20">(µg/mL)</text>
<text transform="translate(10 406.6) scale(0.86 1)" font-size="13.02" fill="#231f20">C</text>
<text transform="translate(27.5 406.6) scale(1 1)" font-size="8.2" fill="#231f20">(i)</text>
<text transform="translate(282 406.6) scale(1 1)" font-size="8.2" fill="#231f20">(ii)</text>
<line x1="67.6" y1="415" x2="67.6" y2="534.2" stroke="#231f20" stroke-width="1.3"/>
<line x1="64.4" y1="533.6" x2="67.6" y2="533.6" stroke="#231f20" stroke-width="1.1"/>
<text transform="translate(61.3 536.9) scale(0.92 1)" font-size="8.7" text-anchor="end" fill="#231f20">0</text>
<line x1="64.4" y1="510.38" x2="67.6" y2="510.38" stroke="#231f20" stroke-width="1.1"/>
<text transform="translate(61.3 513.68) scale(0.92 1)" font-size="8.7" text-anchor="end" fill="#231f20">1000</text>
<line x1="64.4" y1="487.16" x2="67.6" y2="487.16" stroke="#231f20" stroke-width="1.1"/>
<text transform="translate(61.3 490.46) scale(0.92 1)" font-size="8.7" text-anchor="end" fill="#231f20">2000</text>
<line x1="64.4" y1="463.94" x2="67.6" y2="463.94" stroke="#231f20" stroke-width="1.1"/>
<text transform="translate(61.3 467.24) scale(0.92 1)" font-size="8.7" text-anchor="end" fill="#231f20">3000</text>
<line x1="64.4" y1="440.72" x2="67.6" y2="440.72" stroke="#231f20" stroke-width="1.1"/>
<text transform="translate(61.3 444.02) scale(0.92 1)" font-size="8.7" text-anchor="end" fill="#231f20">4000</text>
<line x1="64.4" y1="417.5" x2="67.6" y2="417.5" stroke="#231f20" stroke-width="1.1"/>
<text transform="translate(61.3 420.8) scale(0.92 1)" font-size="8.7" text-anchor="end" fill="#231f20">5000</text>
<rect x="71" y="527.3" width="4.5" height="6.3" fill="#6aa93f"/>
<rect x="76.9" y="526.5" width="4.6" height="7.1" fill="#a6002d"/>
<line x1="71.65" y1="527.3" x2="74.85" y2="527.3" stroke="#1e1a1b" stroke-width="1.05"/>
<line x1="77.6" y1="526.5" x2="80.8" y2="526.5" stroke="#1e1a1b" stroke-width="1.05"/>
<rect x="86.75" y="527.4" width="4.5" height="6.2" fill="#6aa93f"/>
<rect x="92.65" y="526.7" width="4.6" height="6.9" fill="#a6002d"/>
<line x1="87.4" y1="527.4" x2="90.6" y2="527.4" stroke="#1e1a1b" stroke-width="1.05"/>
<line x1="93.35" y1="526.7" x2="96.55" y2="526.7" stroke="#1e1a1b" stroke-width="1.05"/>
<rect x="102.5" y="527.3" width="4.5" height="6.3" fill="#6aa93f"/>
<rect x="108.4" y="526.7" width="4.6" height="6.9" fill="#a6002d"/>
<line x1="103.15" y1="527.3" x2="106.35" y2="527.3" stroke="#1e1a1b" stroke-width="1.05"/>
<line x1="109.1" y1="526.7" x2="112.3" y2="526.7" stroke="#1e1a1b" stroke-width="1.05"/>
<rect x="118.25" y="527.6" width="4.5" height="6" fill="#6aa93f"/>
<rect x="124.15" y="527" width="4.6" height="6.6" fill="#a6002d"/>
<line x1="118.9" y1="527.6" x2="122.1" y2="527.6" stroke="#1e1a1b" stroke-width="1.05"/>
<line x1="124.85" y1="527" x2="128.05" y2="527" stroke="#1e1a1b" stroke-width="1.05"/>
<rect x="134" y="527.6" width="4.5" height="6" fill="#6aa93f"/>
<rect x="139.9" y="527" width="4.6" height="6.6" fill="#a6002d"/>
<line x1="134.65" y1="527.6" x2="137.85" y2="527.6" stroke="#1e1a1b" stroke-width="1.05"/>
<line x1="140.6" y1="527" x2="143.8" y2="527" stroke="#1e1a1b" stroke-width="1.05"/>
<rect x="149.75" y="524.4" width="4.5" height="9.2" fill="#6aa93f"/>
<rect x="155.65" y="526.3" width="4.6" height="7.3" fill="#a6002d"/>
<line x1="152" y1="523.7" x2="152" y2="524.4" stroke="#1e1a1b" stroke-width="1.05"/>
<line x1="150.4" y1="523.7" x2="153.6" y2="523.7" stroke="#1e1a1b" stroke-width="1.05"/>
<line x1="156.35" y1="526.3" x2="159.55" y2="526.3" stroke="#1e1a1b" stroke-width="1.05"/>
<rect x="165.5" y="517.2" width="4.5" height="16.4" fill="#6aa93f"/>
<rect x="171.4" y="523.7" width="4.6" height="9.9" fill="#a6002d"/>
<line x1="167.75" y1="515.7" x2="167.75" y2="517.2" stroke="#1e1a1b" stroke-width="1.05"/>
<line x1="166.15" y1="515.7" x2="169.35" y2="515.7" stroke="#1e1a1b" stroke-width="1.05"/>
<line x1="172.1" y1="523.7" x2="175.3" y2="523.7" stroke="#1e1a1b" stroke-width="1.05"/>
<rect x="181.25" y="487.1" width="4.5" height="46.5" fill="#6aa93f"/>
<rect x="187.15" y="510.8" width="4.6" height="22.8" fill="#a6002d"/>
<line x1="183.5" y1="482.5" x2="183.5" y2="487.1" stroke="#1e1a1b" stroke-width="1.05"/>
<line x1="181.9" y1="482.5" x2="185.1" y2="482.5" stroke="#1e1a1b" stroke-width="1.05"/>
<line x1="189.45" y1="510" x2="189.45" y2="510.8" stroke="#1e1a1b" stroke-width="1.05"/>
<line x1="187.85" y1="510" x2="191.05" y2="510" stroke="#1e1a1b" stroke-width="1.05"/>
<circle cx="186.95" cy="505.1" r="1.25" fill="#4a4a4a"/>
<circle cx="190.65" cy="505.1" r="1.25" fill="#4a4a4a"/>
<circle cx="194.35" cy="505.1" r="1.25" fill="#4a4a4a"/>
<rect x="197" y="468.1" width="4.5" height="65.5" fill="#6aa93f"/>
<rect x="202.9" y="498.8" width="4.6" height="34.8" fill="#a6002d"/>
<line x1="199.25" y1="466.6" x2="199.25" y2="468.1" stroke="#1e1a1b" stroke-width="1.05"/>
<line x1="197.65" y1="466.6" x2="200.85" y2="466.6" stroke="#1e1a1b" stroke-width="1.05"/>
<line x1="205.2" y1="497.7" x2="205.2" y2="498.8" stroke="#1e1a1b" stroke-width="1.05"/>
<line x1="203.6" y1="497.7" x2="206.8" y2="497.7" stroke="#1e1a1b" stroke-width="1.05"/>
<circle cx="202.7" cy="492.8" r="1.25" fill="#4a4a4a"/>
<circle cx="206.4" cy="492.8" r="1.25" fill="#4a4a4a"/>
<circle cx="210.1" cy="492.8" r="1.25" fill="#4a4a4a"/>
<rect x="212.75" y="506.6" width="4.5" height="27" fill="#6aa93f"/>
<rect x="218.65" y="524.8" width="4.6" height="8.8" fill="#a6002d"/>
<line x1="215" y1="498.8" x2="215" y2="506.6" stroke="#1e1a1b" stroke-width="1.05"/>
<line x1="213.4" y1="498.8" x2="216.6" y2="498.8" stroke="#1e1a1b" stroke-width="1.05"/>
<line x1="220.95" y1="524" x2="220.95" y2="524.8" stroke="#1e1a1b" stroke-width="1.05"/>
<line x1="219.35" y1="524" x2="222.55" y2="524" stroke="#1e1a1b" stroke-width="1.05"/>
<circle cx="218.45" cy="520.3" r="1.25" fill="#4a4a4a"/>
<circle cx="222.15" cy="520.3" r="1.25" fill="#4a4a4a"/>
<circle cx="225.85" cy="520.3" r="1.25" fill="#4a4a4a"/>
<rect x="228.5" y="479.1" width="4.5" height="54.5" fill="#6aa93f"/>
<rect x="234.4" y="506.8" width="4.6" height="26.8" fill="#a6002d"/>
<line x1="230.75" y1="475.1" x2="230.75" y2="479.1" stroke="#1e1a1b" stroke-width="1.05"/>
<line x1="229.15" y1="475.1" x2="232.35" y2="475.1" stroke="#1e1a1b" stroke-width="1.05"/>
<line x1="236.7" y1="503.4" x2="236.7" y2="506.8" stroke="#1e1a1b" stroke-width="1.05"/>
<line x1="235.1" y1="503.4" x2="238.3" y2="503.4" stroke="#1e1a1b" stroke-width="1.05"/>
<circle cx="234.2" cy="497.7" r="1.25" fill="#4a4a4a"/>
<circle cx="237.9" cy="497.7" r="1.25" fill="#4a4a4a"/>
<circle cx="241.6" cy="497.7" r="1.25" fill="#4a4a4a"/>
<line x1="64.4" y1="533.6" x2="243.8" y2="533.6" stroke="#231f20" stroke-width="1.3"/>
<text transform="translate(36.8 473.6) rotate(-90) scale(0.92 1)" text-anchor="middle" font-size="10.43" fill="#231f20">P-selectin MFI</text>
<line x1="332.1" y1="415" x2="332.1" y2="534.2" stroke="#231f20" stroke-width="1.3"/>
<line x1="328.9" y1="533.6" x2="332.1" y2="533.6" stroke="#231f20" stroke-width="1.1"/>
<text transform="translate(325.8 536.9) scale(0.92 1)" font-size="8.7" text-anchor="end" fill="#231f20">0</text>
<line x1="328.9" y1="510.38" x2="332.1" y2="510.38" stroke="#231f20" stroke-width="1.1"/>
<text transform="translate(325.8 513.68) scale(0.92 1)" font-size="8.7" text-anchor="end" fill="#231f20">20000</text>
<line x1="328.9" y1="487.16" x2="332.1" y2="487.16" stroke="#231f20" stroke-width="1.1"/>
<text transform="translate(325.8 490.46) scale(0.92 1)" font-size="8.7" text-anchor="end" fill="#231f20">40000</text>
<line x1="328.9" y1="463.94" x2="332.1" y2="463.94" stroke="#231f20" stroke-width="1.1"/>
<text transform="translate(325.8 467.24) scale(0.92 1)" font-size="8.7" text-anchor="end" fill="#231f20">60000</text>
<line x1="328.9" y1="440.72" x2="332.1" y2="440.72" stroke="#231f20" stroke-width="1.1"/>
<text transform="translate(325.8 444.02) scale(0.92 1)" font-size="8.7" text-anchor="end" fill="#231f20">80000</text>
<line x1="328.9" y1="417.5" x2="332.1" y2="417.5" stroke="#231f20" stroke-width="1.1"/>
<text transform="translate(325.8 420.8) scale(0.92 1)" font-size="8.7" text-anchor="end" fill="#231f20">100000</text>
<rect x="334.6" y="527.9" width="4.5" height="5.7" fill="#6aa93f"/>
<rect x="340.5" y="526.7" width="4.6" height="6.9" fill="#a6002d"/>
<line x1="336.85" y1="527.3" x2="336.85" y2="527.9" stroke="#1e1a1b" stroke-width="1.05"/>
<line x1="335.25" y1="527.3" x2="338.45" y2="527.3" stroke="#1e1a1b" stroke-width="1.05"/>
<line x1="342.8" y1="526" x2="342.8" y2="526.7" stroke="#1e1a1b" stroke-width="1.05"/>
<line x1="341.2" y1="526" x2="344.4" y2="526" stroke="#1e1a1b" stroke-width="1.05"/>
<rect x="350.35" y="521" width="4.5" height="12.6" fill="#6aa93f"/>
<rect x="356.25" y="520" width="4.6" height="13.6" fill="#a6002d"/>
<line x1="352.6" y1="518.1" x2="352.6" y2="521" stroke="#1e1a1b" stroke-width="1.05"/>
<line x1="351" y1="518.1" x2="354.2" y2="518.1" stroke="#1e1a1b" stroke-width="1.05"/>
<line x1="358.55" y1="517.3" x2="358.55" y2="520" stroke="#1e1a1b" stroke-width="1.05"/>
<line x1="356.95" y1="517.3" x2="360.15" y2="517.3" stroke="#1e1a1b" stroke-width="1.05"/>
<rect x="366.1" y="517.1" width="4.5" height="16.5" fill="#6aa93f"/>
<rect x="372" y="513.3" width="4.6" height="20.3" fill="#a6002d"/>
<line x1="368.35" y1="514.4" x2="368.35" y2="517.1" stroke="#1e1a1b" stroke-width="1.05"/>
<line x1="366.75" y1="514.4" x2="369.95" y2="514.4" stroke="#1e1a1b" stroke-width="1.05"/>
<line x1="374.3" y1="508.7" x2="374.3" y2="513.3" stroke="#1e1a1b" stroke-width="1.05"/>
<line x1="372.7" y1="508.7" x2="375.9" y2="508.7" stroke="#1e1a1b" stroke-width="1.05"/>
<rect x="381.85" y="511" width="4.5" height="22.6" fill="#6aa93f"/>
<rect x="387.75" y="508.1" width="4.6" height="25.5" fill="#a6002d"/>
<line x1="384.1" y1="508.1" x2="384.1" y2="511" stroke="#1e1a1b" stroke-width="1.05"/>
<line x1="382.5" y1="508.1" x2="385.7" y2="508.1" stroke="#1e1a1b" stroke-width="1.05"/>
<line x1="390.05" y1="505.6" x2="390.05" y2="508.1" stroke="#1e1a1b" stroke-width="1.05"/>
<line x1="388.45" y1="505.6" x2="391.65" y2="505.6" stroke="#1e1a1b" stroke-width="1.05"/>
<rect x="397.6" y="507.1" width="4.5" height="26.5" fill="#6aa93f"/>
<rect x="403.5" y="511.9" width="4.6" height="21.7" fill="#a6002d"/>
<line x1="399.85" y1="504.4" x2="399.85" y2="507.1" stroke="#1e1a1b" stroke-width="1.05"/>
<line x1="398.25" y1="504.4" x2="401.45" y2="504.4" stroke="#1e1a1b" stroke-width="1.05"/>
<line x1="405.8" y1="509.4" x2="405.8" y2="511.9" stroke="#1e1a1b" stroke-width="1.05"/>
<line x1="404.2" y1="509.4" x2="407.4" y2="509.4" stroke="#1e1a1b" stroke-width="1.05"/>
<rect x="413.35" y="501.4" width="4.5" height="32.2" fill="#6aa93f"/>
<rect x="419.25" y="495.1" width="4.6" height="38.5" fill="#a6002d"/>
<line x1="415.6" y1="498.3" x2="415.6" y2="501.4" stroke="#1e1a1b" stroke-width="1.05"/>
<line x1="414" y1="498.3" x2="417.2" y2="498.3" stroke="#1e1a1b" stroke-width="1.05"/>
<line x1="421.55" y1="493.6" x2="421.55" y2="495.1" stroke="#1e1a1b" stroke-width="1.05"/>
<line x1="419.95" y1="493.6" x2="423.15" y2="493.6" stroke="#1e1a1b" stroke-width="1.05"/>
<rect x="429.1" y="495.5" width="4.5" height="38.1" fill="#6aa93f"/>
<rect x="435" y="490.9" width="4.6" height="42.7" fill="#a6002d"/>
<line x1="431.35" y1="494.3" x2="431.35" y2="495.5" stroke="#1e1a1b" stroke-width="1.05"/>
<line x1="429.75" y1="494.3" x2="432.95" y2="494.3" stroke="#1e1a1b" stroke-width="1.05"/>
<line x1="437.3" y1="489.4" x2="437.3" y2="490.9" stroke="#1e1a1b" stroke-width="1.05"/>
<line x1="435.7" y1="489.4" x2="438.9" y2="489.4" stroke="#1e1a1b" stroke-width="1.05"/>
<rect x="444.85" y="464.4" width="4.5" height="69.2" fill="#6aa93f"/>
<rect x="450.75" y="465.5" width="4.6" height="68.1" fill="#a6002d"/>
<line x1="447.1" y1="458.5" x2="447.1" y2="464.4" stroke="#1e1a1b" stroke-width="1.05"/>
<line x1="445.5" y1="458.5" x2="448.7" y2="458.5" stroke="#1e1a1b" stroke-width="1.05"/>
<line x1="453.05" y1="459.8" x2="453.05" y2="465.5" stroke="#1e1a1b" stroke-width="1.05"/>
<line x1="451.45" y1="459.8" x2="454.65" y2="459.8" stroke="#1e1a1b" stroke-width="1.05"/>
<rect x="460.6" y="441.2" width="4.5" height="92.4" fill="#6aa93f"/>
<rect x="466.5" y="449.2" width="4.6" height="84.4" fill="#a6002d"/>
<line x1="462.85" y1="430.2" x2="462.85" y2="441.2" stroke="#1e1a1b" stroke-width="1.05"/>
<line x1="461.25" y1="430.2" x2="464.45" y2="430.2" stroke="#1e1a1b" stroke-width="1.05"/>
<line x1="468.8" y1="436.5" x2="468.8" y2="449.2" stroke="#1e1a1b" stroke-width="1.05"/>
<line x1="467.2" y1="436.5" x2="470.4" y2="436.5" stroke="#1e1a1b" stroke-width="1.05"/>
<rect x="476.35" y="476.5" width="4.5" height="57.1" fill="#6aa93f"/>
<rect x="482.25" y="502.5" width="4.6" height="31.1" fill="#a6002d"/>
<line x1="478.6" y1="470.8" x2="478.6" y2="476.5" stroke="#1e1a1b" stroke-width="1.05"/>
<line x1="477" y1="470.8" x2="480.2" y2="470.8" stroke="#1e1a1b" stroke-width="1.05"/>
<line x1="484.55" y1="492.6" x2="484.55" y2="502.5" stroke="#1e1a1b" stroke-width="1.05"/>
<line x1="482.95" y1="492.6" x2="486.15" y2="492.6" stroke="#1e1a1b" stroke-width="1.05"/>
<circle cx="484.25" cy="487.3" r="1.25" fill="#4a4a4a"/>
<rect x="492.1" y="469.9" width="4.5" height="63.7" fill="#6aa93f"/>
<rect x="498" y="495.7" width="4.6" height="37.9" fill="#a6002d"/>
<line x1="494.35" y1="468.2" x2="494.35" y2="469.9" stroke="#1e1a1b" stroke-width="1.05"/>
<line x1="492.75" y1="468.2" x2="495.95" y2="468.2" stroke="#1e1a1b" stroke-width="1.05"/>
<line x1="500.3" y1="486.2" x2="500.3" y2="495.7" stroke="#1e1a1b" stroke-width="1.05"/>
<line x1="498.7" y1="486.2" x2="501.9" y2="486.2" stroke="#1e1a1b" stroke-width="1.05"/>
<circle cx="500" cy="480.3" r="1.25" fill="#4a4a4a"/>
<line x1="328.9" y1="533.6" x2="507.6" y2="533.6" stroke="#231f20" stroke-width="1.3"/>
<text transform="translate(290.5 473.9) rotate(-90) scale(0.92 1)" text-anchor="middle" font-size="10.76" fill="#231f20">Fibrinogen MFI</text>
<text transform="translate(91.95 548.1) scale(0.92 1)" font-size="8.7" text-anchor="middle" fill="#231f20">3</text>
<text transform="translate(107.7 548.1) scale(0.92 1)" font-size="8.7" text-anchor="middle" fill="#231f20">30</text>
<text transform="translate(123.45 548.1) scale(0.92 1)" font-size="8.7" text-anchor="middle" fill="#231f20">3</text>
<text transform="translate(139.2 548.1) scale(0.92 1)" font-size="8.7" text-anchor="middle" fill="#231f20">30</text>
<text transform="translate(154.95 548.1) scale(0.92 1)" font-size="8.7" text-anchor="middle" fill="#231f20">3</text>
<text transform="translate(170.7 548.1) scale(0.92 1)" font-size="8.7" text-anchor="middle" fill="#231f20">30</text>
<text transform="translate(186.45 548.1) scale(0.92 1)" font-size="8.7" text-anchor="middle" fill="#231f20">0.06</text>
<text transform="translate(202.2 548.1) scale(0.92 1)" font-size="8.7" text-anchor="middle" fill="#231f20">0.6</text>
<text transform="translate(217.95 548.1) scale(0.92 1)" font-size="8.7" text-anchor="middle" fill="#231f20">100</text>
<text transform="translate(233.7 548.1) scale(0.92 1)" font-size="8.7" text-anchor="middle" fill="#231f20">500</text>
<text transform="translate(355.55 548.1) scale(0.92 1)" font-size="8.7" text-anchor="middle" fill="#231f20">3</text>
<text transform="translate(371.3 548.1) scale(0.92 1)" font-size="8.7" text-anchor="middle" fill="#231f20">30</text>
<text transform="translate(387.05 548.1) scale(0.92 1)" font-size="8.7" text-anchor="middle" fill="#231f20">3</text>
<text transform="translate(402.8 548.1) scale(0.92 1)" font-size="8.7" text-anchor="middle" fill="#231f20">30</text>
<text transform="translate(418.55 548.1) scale(0.92 1)" font-size="8.7" text-anchor="middle" fill="#231f20">3</text>
<text transform="translate(434.3 548.1) scale(0.92 1)" font-size="8.7" text-anchor="middle" fill="#231f20">30</text>
<text transform="translate(450.05 548.1) scale(0.92 1)" font-size="8.7" text-anchor="middle" fill="#231f20">0.06</text>
<text transform="translate(465.8 548.1) scale(0.92 1)" font-size="8.7" text-anchor="middle" fill="#231f20">0.6</text>
<text transform="translate(481.55 548.1) scale(0.92 1)" font-size="8.7" text-anchor="middle" fill="#231f20">100</text>
<text transform="translate(497.3 548.1) scale(0.92 1)" font-size="8.7" text-anchor="middle" fill="#231f20">500</text>
<text transform="translate(67.1 548.1) scale(0.92 1)" font-size="8.7" fill="#231f20">basal</text>
<text transform="translate(330.8 548.1) scale(0.92 1)" font-size="8.7" fill="#231f20">basal</text>
<line x1="87.5" y1="553.3" x2="111.5" y2="553.3" stroke="#231f20" stroke-width="1.2"/>
<text transform="translate(100 564.2) scale(0.92 1)" font-size="8.7" text-anchor="middle" fill="#231f20">ADP</text>
<text transform="translate(100 575.2) scale(0.92 1)" font-size="8.7" text-anchor="middle" textLength="18.37" lengthAdjust="spacingAndGlyphs" fill="#231f20">(µM)</text>
<line x1="120" y1="553.3" x2="144" y2="553.3" stroke="#231f20" stroke-width="1.2"/>
<text transform="translate(129.8 564.2) scale(0.92 1)" font-size="8.7" text-anchor="middle" textLength="30.65" lengthAdjust="spacingAndGlyphs" fill="#231f20">U46619</text>
<text transform="translate(129.8 575.2) scale(0.92 1)" font-size="8.7" text-anchor="middle" textLength="18.37" lengthAdjust="spacingAndGlyphs" fill="#231f20">(µM)</text>
<line x1="151" y1="553.3" x2="175.3" y2="553.3" stroke="#231f20" stroke-width="1.2"/>
<text transform="translate(163.65 564.2) scale(0.92 1)" font-size="8.7" text-anchor="middle" fill="#231f20">ADP +</text>
<text transform="translate(163.65 575.3) scale(0.92 1)" font-size="8.7" text-anchor="middle" textLength="30.65" lengthAdjust="spacingAndGlyphs" fill="#231f20">U46619</text>
<text transform="translate(163.65 586.4) scale(0.92 1)" font-size="8.7" text-anchor="middle" textLength="18.37" lengthAdjust="spacingAndGlyphs" fill="#231f20">(µM)</text>
<line x1="181.9" y1="553.3" x2="206.2" y2="553.3" stroke="#231f20" stroke-width="1.2"/>
<text transform="translate(194.55 564.2) scale(0.92 1)" font-size="8.7" text-anchor="middle" fill="#231f20">Thr</text>
<text transform="translate(194.55 575.2) scale(0.92 1)" font-size="8.7" text-anchor="middle" textLength="27.83" lengthAdjust="spacingAndGlyphs" fill="#231f20">(U/mL)</text>
<line x1="215.3" y1="553.3" x2="239.9" y2="553.3" stroke="#231f20" stroke-width="1.2"/>
<text transform="translate(228.1 564.2) scale(0.92 1)" font-size="8.7" text-anchor="middle" fill="#231f20">PAR4p</text>
<text transform="translate(228.1 575.2) scale(0.92 1)" font-size="8.7" text-anchor="middle" textLength="18.37" lengthAdjust="spacingAndGlyphs" fill="#231f20">(µM)</text>
<line x1="351.3" y1="553.3" x2="375.3" y2="553.3" stroke="#231f20" stroke-width="1.2"/>
<text transform="translate(363.8 564.2) scale(0.92 1)" font-size="8.7" text-anchor="middle" fill="#231f20">ADP</text>
<text transform="translate(363.8 575.2) scale(0.92 1)" font-size="8.7" text-anchor="middle" textLength="18.37" lengthAdjust="spacingAndGlyphs" fill="#231f20">(µM)</text>
<line x1="383.8" y1="553.3" x2="407.8" y2="553.3" stroke="#231f20" stroke-width="1.2"/>
<text transform="translate(394.8 564.2) scale(0.92 1)" font-size="8.7" text-anchor="middle" textLength="30.65" lengthAdjust="spacingAndGlyphs" fill="#231f20">U46619</text>
<text transform="translate(394.8 575.2) scale(0.92 1)" font-size="8.7" text-anchor="middle" textLength="18.37" lengthAdjust="spacingAndGlyphs" fill="#231f20">(µM)</text>
<line x1="414.8" y1="553.3" x2="439.1" y2="553.3" stroke="#231f20" stroke-width="1.2"/>
<text transform="translate(427.45 564.2) scale(0.92 1)" font-size="8.7" text-anchor="middle" fill="#231f20">ADP +</text>
<text transform="translate(427.45 575.3) scale(0.92 1)" font-size="8.7" text-anchor="middle" textLength="30.65" lengthAdjust="spacingAndGlyphs" fill="#231f20">U46619</text>
<text transform="translate(427.45 586.4) scale(0.92 1)" font-size="8.7" text-anchor="middle" textLength="18.37" lengthAdjust="spacingAndGlyphs" fill="#231f20">(µM)</text>
<line x1="445.7" y1="553.3" x2="470" y2="553.3" stroke="#231f20" stroke-width="1.2"/>
<text transform="translate(458.35 564.2) scale(0.92 1)" font-size="8.7" text-anchor="middle" fill="#231f20">Thr</text>
<text transform="translate(458.35 575.2) scale(0.92 1)" font-size="8.7" text-anchor="middle" textLength="27.83" lengthAdjust="spacingAndGlyphs" fill="#231f20">(U/mL)</text>
<line x1="479.1" y1="553.3" x2="503.7" y2="553.3" stroke="#231f20" stroke-width="1.2"/>
<text transform="translate(491.9 564.2) scale(0.92 1)" font-size="8.7" text-anchor="middle" fill="#231f20">PAR4p</text>
<text transform="translate(491.9 575.2) scale(0.92 1)" font-size="8.7" text-anchor="middle" textLength="18.37" lengthAdjust="spacingAndGlyphs" fill="#231f20">(µM)</text>
<text transform="translate(10 609.1) scale(0.86 1)" font-size="13.02" fill="#231f20">D</text>
<text transform="translate(27.5 609.1) scale(1 1)" font-size="8.2" fill="#231f20">(i)</text>
<text transform="translate(281.3 608.6) scale(1 1)" font-size="8.2" fill="#231f20">(ii)</text>
<line x1="68.3" y1="611.6" x2="68.3" y2="698.3" stroke="#231f20" stroke-width="1.3"/>
<line x1="65.1" y1="697.7" x2="68.3" y2="697.7" stroke="#231f20" stroke-width="1.1"/>
<text transform="translate(62 701) scale(0.92 1)" font-size="8.7" text-anchor="end" fill="#231f20">0</text>
<line x1="65.1" y1="676.9" x2="68.3" y2="676.9" stroke="#231f20" stroke-width="1.1"/>
<text transform="translate(62 680.2) scale(0.92 1)" font-size="8.7" text-anchor="end" fill="#231f20">1000</text>
<line x1="65.1" y1="656.1" x2="68.3" y2="656.1" stroke="#231f20" stroke-width="1.1"/>
<text transform="translate(62 659.4) scale(0.92 1)" font-size="8.7" text-anchor="end" fill="#231f20">2000</text>
<line x1="65.1" y1="635.3" x2="68.3" y2="635.3" stroke="#231f20" stroke-width="1.1"/>
<text transform="translate(62 638.6) scale(0.92 1)" font-size="8.7" text-anchor="end" fill="#231f20">3000</text>
<line x1="65.1" y1="614.5" x2="68.3" y2="614.5" stroke="#231f20" stroke-width="1.1"/>
<text transform="translate(62 617.8) scale(0.92 1)" font-size="8.7" text-anchor="end" fill="#231f20">4000</text>
<rect x="73.1" y="692" width="7.9" height="5.7" fill="#6aa93f"/>
<rect x="83.1" y="691.4" width="8.2" height="6.3" fill="#a6002d"/>
<line x1="75.15" y1="692" x2="78.95" y2="692" stroke="#1e1a1b" stroke-width="1.05"/>
<line x1="85.3" y1="691.4" x2="89.1" y2="691.4" stroke="#1e1a1b" stroke-width="1.05"/>
<rect x="100.4" y="673.4" width="7.9" height="24.3" fill="#6aa93f"/>
<rect x="110.4" y="689.9" width="8.2" height="7.8" fill="#a6002d"/>
<line x1="104.35" y1="666.6" x2="104.35" y2="673.4" stroke="#1e1a1b" stroke-width="1.05"/>
<line x1="102.45" y1="666.6" x2="106.25" y2="666.6" stroke="#1e1a1b" stroke-width="1.05"/>
<line x1="114.5" y1="689.5" x2="114.5" y2="689.9" stroke="#1e1a1b" stroke-width="1.05"/>
<line x1="112.6" y1="689.5" x2="116.4" y2="689.5" stroke="#1e1a1b" stroke-width="1.05"/>
<circle cx="114.2" cy="685.3" r="1.25" fill="#4a4a4a"/>
<rect x="127.7" y="649.1" width="7.9" height="48.6" fill="#6aa93f"/>
<rect x="137.7" y="673.4" width="8.2" height="24.3" fill="#a6002d"/>
<line x1="131.65" y1="645.1" x2="131.65" y2="649.1" stroke="#1e1a1b" stroke-width="1.05"/>
<line x1="129.75" y1="645.1" x2="133.55" y2="645.1" stroke="#1e1a1b" stroke-width="1.05"/>
<line x1="141.8" y1="670.4" x2="141.8" y2="673.4" stroke="#1e1a1b" stroke-width="1.05"/>
<line x1="139.9" y1="670.4" x2="143.7" y2="670.4" stroke="#1e1a1b" stroke-width="1.05"/>
<circle cx="139.3" cy="666.6" r="1.25" fill="#4a4a4a"/>
<circle cx="143" cy="666.6" r="1.25" fill="#4a4a4a"/>
<circle cx="146.7" cy="666.6" r="1.25" fill="#4a4a4a"/>
<rect x="155" y="662.8" width="7.9" height="34.9" fill="#6aa93f"/>
<rect x="165" y="682.9" width="8.2" height="14.8" fill="#a6002d"/>
<line x1="158.95" y1="652.5" x2="158.95" y2="662.8" stroke="#1e1a1b" stroke-width="1.05"/>
<line x1="157.05" y1="652.5" x2="160.85" y2="652.5" stroke="#1e1a1b" stroke-width="1.05"/>
<line x1="169.1" y1="679.8" x2="169.1" y2="682.9" stroke="#1e1a1b" stroke-width="1.05"/>
<line x1="167.2" y1="679.8" x2="171" y2="679.8" stroke="#1e1a1b" stroke-width="1.05"/>
<circle cx="166.6" cy="675.5" r="1.25" fill="#4a4a4a"/>
<circle cx="170.3" cy="675.5" r="1.25" fill="#4a4a4a"/>
<circle cx="174" cy="675.5" r="1.25" fill="#4a4a4a"/>
<rect x="182.3" y="622.8" width="7.9" height="74.9" fill="#6aa93f"/>
<rect x="192.3" y="664.1" width="8.2" height="33.6" fill="#a6002d"/>
<line x1="186.25" y1="619.5" x2="186.25" y2="622.8" stroke="#1e1a1b" stroke-width="1.05"/>
<line x1="184.35" y1="619.5" x2="188.15" y2="619.5" stroke="#1e1a1b" stroke-width="1.05"/>
<line x1="196.4" y1="658.6" x2="196.4" y2="664.1" stroke="#1e1a1b" stroke-width="1.05"/>
<line x1="194.5" y1="658.6" x2="198.3" y2="658.6" stroke="#1e1a1b" stroke-width="1.05"/>
<circle cx="194.85" cy="654.6" r="1.25" fill="#4a4a4a"/>
<circle cx="198.55" cy="654.6" r="1.25" fill="#4a4a4a"/>
<line x1="65.1" y1="697.7" x2="205.6" y2="697.7" stroke="#231f20" stroke-width="1.3"/>
<text transform="translate(38.9 655) rotate(-90) scale(0.92 1)" text-anchor="middle" font-size="10.43" fill="#231f20">P-selectin MFI</text>
<line x1="332.5" y1="611.6" x2="332.5" y2="698.3" stroke="#231f20" stroke-width="1.3"/>
<line x1="329.3" y1="697.7" x2="332.5" y2="697.7" stroke="#231f20" stroke-width="1.1"/>
<text transform="translate(326.2 701) scale(0.92 1)" font-size="8.7" text-anchor="end" fill="#231f20">0</text>
<line x1="329.3" y1="670" x2="332.5" y2="670" stroke="#231f20" stroke-width="1.1"/>
<text transform="translate(326.2 673.3) scale(0.92 1)" font-size="8.7" text-anchor="end" fill="#231f20">20000</text>
<line x1="329.3" y1="642.3" x2="332.5" y2="642.3" stroke="#231f20" stroke-width="1.1"/>
<text transform="translate(326.2 645.6) scale(0.92 1)" font-size="8.7" text-anchor="end" fill="#231f20">40000</text>
<line x1="329.3" y1="614.6" x2="332.5" y2="614.6" stroke="#231f20" stroke-width="1.1"/>
<text transform="translate(326.2 617.9) scale(0.92 1)" font-size="8.7" text-anchor="end" fill="#231f20">60000</text>
<rect x="337" y="682" width="7.9" height="15.7" fill="#6aa93f"/>
<rect x="347" y="687.5" width="8.2" height="10.2" fill="#a6002d"/>
<line x1="340.95" y1="679.5" x2="340.95" y2="682" stroke="#1e1a1b" stroke-width="1.05"/>
<line x1="339.05" y1="679.5" x2="342.85" y2="679.5" stroke="#1e1a1b" stroke-width="1.05"/>
<line x1="351.1" y1="686.8" x2="351.1" y2="687.5" stroke="#1e1a1b" stroke-width="1.05"/>
<line x1="349.2" y1="686.8" x2="353" y2="686.8" stroke="#1e1a1b" stroke-width="1.05"/>
<rect x="364.3" y="646.8" width="7.9" height="50.9" fill="#6aa93f"/>
<rect x="374.3" y="687" width="8.2" height="10.7" fill="#a6002d"/>
<line x1="368.25" y1="644.5" x2="368.25" y2="646.8" stroke="#1e1a1b" stroke-width="1.05"/>
<line x1="366.35" y1="644.5" x2="370.15" y2="644.5" stroke="#1e1a1b" stroke-width="1.05"/>
<line x1="378.4" y1="685.3" x2="378.4" y2="687" stroke="#1e1a1b" stroke-width="1.05"/>
<line x1="376.5" y1="685.3" x2="380.3" y2="685.3" stroke="#1e1a1b" stroke-width="1.05"/>
<circle cx="375.9" cy="681.75" r="1.25" fill="#4a4a4a"/>
<circle cx="379.6" cy="681.75" r="1.25" fill="#4a4a4a"/>
<circle cx="383.3" cy="681.75" r="1.25" fill="#4a4a4a"/>
<rect x="391.6" y="626" width="7.9" height="71.7" fill="#6aa93f"/>
<rect x="401.6" y="677.9" width="8.2" height="19.8" fill="#a6002d"/>
<line x1="395.55" y1="623.7" x2="395.55" y2="626" stroke="#1e1a1b" stroke-width="1.05"/>
<line x1="393.65" y1="623.7" x2="397.45" y2="623.7" stroke="#1e1a1b" stroke-width="1.05"/>
<line x1="405.7" y1="675.1" x2="405.7" y2="677.9" stroke="#1e1a1b" stroke-width="1.05"/>
<line x1="403.8" y1="675.1" x2="407.6" y2="675.1" stroke="#1e1a1b" stroke-width="1.05"/>
<circle cx="403.2" cy="670.9" r="1.25" fill="#4a4a4a"/>
<circle cx="406.9" cy="670.9" r="1.25" fill="#4a4a4a"/>
<circle cx="410.6" cy="670.9" r="1.25" fill="#4a4a4a"/>
<rect x="418.9" y="646.5" width="7.9" height="51.2" fill="#6aa93f"/>
<rect x="428.9" y="648.7" width="8.2" height="49" fill="#a6002d"/>
<line x1="422.85" y1="645.5" x2="422.85" y2="646.5" stroke="#1e1a1b" stroke-width="1.05"/>
<line x1="420.95" y1="645.5" x2="424.75" y2="645.5" stroke="#1e1a1b" stroke-width="1.05"/>
<line x1="433" y1="644.4" x2="433" y2="648.7" stroke="#1e1a1b" stroke-width="1.05"/>
<line x1="431.1" y1="644.4" x2="434.9" y2="644.4" stroke="#1e1a1b" stroke-width="1.05"/>
<rect x="446.2" y="634.9" width="7.9" height="62.8" fill="#6aa93f"/>
<rect x="456.2" y="647.2" width="8.2" height="50.5" fill="#a6002d"/>
<line x1="450.15" y1="630.3" x2="450.15" y2="634.9" stroke="#1e1a1b" stroke-width="1.05"/>
<line x1="448.25" y1="630.3" x2="452.05" y2="630.3" stroke="#1e1a1b" stroke-width="1.05"/>
<line x1="460.3" y1="640.2" x2="460.3" y2="647.2" stroke="#1e1a1b" stroke-width="1.05"/>
<line x1="458.4" y1="640.2" x2="462.2" y2="640.2" stroke="#1e1a1b" stroke-width="1.05"/>
<line x1="329.3" y1="697.7" x2="469.9" y2="697.7" stroke="#231f20" stroke-width="1.3"/>
<text transform="translate(296.4 654.4) rotate(-90) scale(0.92 1)" text-anchor="middle" font-size="10.76" fill="#231f20">Fibrinogen MFI</text>
<text transform="translate(26.3 712.6) scale(0.92 1)" font-size="8.7" fill="#231f20">10 µM ADP:</text>
<text transform="translate(82.15 712) scale(0.92 1)" font-size="8.7" text-anchor="middle" fill="#231f20">-</text>
<text transform="translate(109.45 712) scale(0.92 1)" font-size="8.7" text-anchor="middle" fill="#231f20">-</text>
<text transform="translate(136.75 712) scale(0.92 1)" font-size="8.7" text-anchor="middle" fill="#231f20">-</text>
<text transform="translate(164.05 712) scale(0.92 1)" font-size="8.7" text-anchor="middle" fill="#231f20">+</text>
<text transform="translate(191.35 712) scale(0.92 1)" font-size="8.7" text-anchor="middle" fill="#231f20">+</text>
<text transform="translate(72.5 723.1) scale(0.92 1)" font-size="8.7" fill="#231f20">basal</text>
<text transform="translate(109.45 723.1) scale(0.92 1)" font-size="8.7" text-anchor="middle" fill="#231f20">100</text>
<text transform="translate(136.75 723.1) scale(0.92 1)" font-size="8.7" text-anchor="middle" fill="#231f20">500</text>
<text transform="translate(164.05 723.1) scale(0.92 1)" font-size="8.7" text-anchor="middle" fill="#231f20">100</text>
<text transform="translate(191.35 723.1) scale(0.92 1)" font-size="8.7" text-anchor="middle" fill="#231f20">500</text>
<line x1="99.2" y1="727.8" x2="201.3" y2="727.8" stroke="#231f20" stroke-width="1.2"/>
<text transform="translate(150.25 739.1) scale(0.92 1)" font-size="8.7" text-anchor="middle" textLength="46.2" lengthAdjust="spacingAndGlyphs" fill="#231f20">PAR4p (µM)</text>
<text transform="translate(290.2 712.6) scale(0.92 1)" font-size="8.7" fill="#231f20">10 µM ADP:</text>
<text transform="translate(346.05 712) scale(0.92 1)" font-size="8.7" text-anchor="middle" fill="#231f20">-</text>
<text transform="translate(373.35 712) scale(0.92 1)" font-size="8.7" text-anchor="middle" fill="#231f20">-</text>
<text transform="translate(400.65 712) scale(0.92 1)" font-size="8.7" text-anchor="middle" fill="#231f20">-</text>
<text transform="translate(427.95 712) scale(0.92 1)" font-size="8.7" text-anchor="middle" fill="#231f20">+</text>
<text transform="translate(455.25 712) scale(0.92 1)" font-size="8.7" text-anchor="middle" fill="#231f20">+</text>
<text transform="translate(336.7 723.1) scale(0.92 1)" font-size="8.7" fill="#231f20">basal</text>
<text transform="translate(373.35 723.1) scale(0.92 1)" font-size="8.7" text-anchor="middle" fill="#231f20">100</text>
<text transform="translate(400.65 723.1) scale(0.92 1)" font-size="8.7" text-anchor="middle" fill="#231f20">500</text>
<text transform="translate(427.95 723.1) scale(0.92 1)" font-size="8.7" text-anchor="middle" fill="#231f20">100</text>
<text transform="translate(455.25 723.1) scale(0.92 1)" font-size="8.7" text-anchor="middle" fill="#231f20">500</text>
<line x1="363.1" y1="727.8" x2="465.2" y2="727.8" stroke="#231f20" stroke-width="1.2"/>
<text transform="translate(414.15 739.1) scale(0.92 1)" font-size="8.7" text-anchor="middle" textLength="46.2" lengthAdjust="spacingAndGlyphs" fill="#231f20">PAR4p (µM)</text>
<rect x="0" y="0" width="520" height="1.5" fill="#2b2b2b"/>
<rect x="0" y="0" width="1.5" height="751" fill="#2b2b2b"/>
<rect x="518" y="0" width="2" height="751" fill="#5a5a5a"/>
<rect x="0" y="749" width="520" height="2" fill="#3a3a3a"/>
</svg>
</body></html>
